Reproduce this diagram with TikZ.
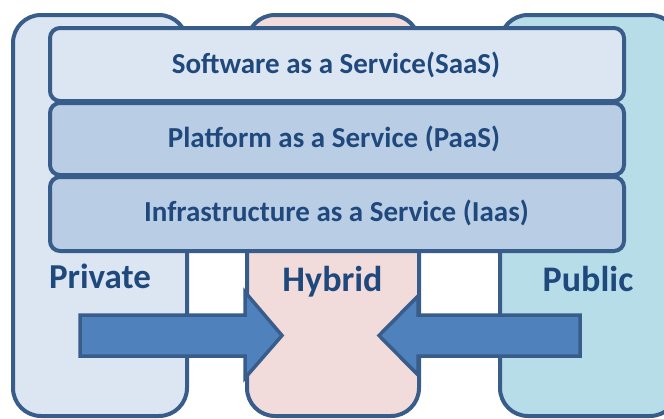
\documentclass[tikz,border=0pt]{standalone}
\usepackage{fontspec}
\setmainfont{Carlito}
\definecolor{bordc}{HTML}{385D8A}
\definecolor{txtc}{HTML}{1F497D}
\definecolor{privc}{HTML}{DCE6F2}
\definecolor{hybc}{HTML}{F2DCDB}
\definecolor{pubc}{HTML}{B7DEE8}
\definecolor{saasc}{HTML}{DCE6F2}
\definecolor{paasc}{HTML}{B9CDE5}
\definecolor{arrc}{HTML}{4F81BD}
\tikzset{
  cloudbox/.style={draw=bordc, line width=4pt, rectangle, rounded corners=28pt, inner sep=0pt},
  layerbox/.style={draw=bordc, line width=4pt, rectangle, rounded corners=10pt, inner sep=0pt,
    minimum width=574pt},
  layerlabel/.style={font=\bfseries\fontsize{29}{32}\selectfont, text=txtc, inner sep=0pt, anchor=base},
  cloudlabel/.style={font=\bfseries\fontsize{36}{40}\selectfont, text=txtc, inner sep=0pt, anchor=base},
  blockarrow/.style={draw=bordc, fill=arrc, line width=3.5pt, line join=miter}
}
\begin{document}
\begin{tikzpicture}[x=1pt,y=-1pt]
\clip (0,0) rectangle (664,418);
\fill[white] (0,0) rectangle (664,418);
% cloud boxes
\node[cloudbox, fill=privc, minimum width=174pt, minimum height=401pt] (private) at (100,215.5) {};
\node[cloudbox, fill=hybc, minimum width=172pt, minimum height=401pt] (hybrid) at (333,215.5) {};
\node[cloudbox, fill=pubc, minimum width=178pt, minimum height=401pt] (public) at (589,215.5) {};
% layers
\node[layerbox, fill=saasc, minimum height=73pt] (saas) at (337,64.5) {};
\node[layerbox, fill=paasc, minimum height=72pt] (paas) at (337,139) {};
\node[layerbox, fill=paasc, minimum height=74pt] (iaas) at (337,214) {};
\node[layerlabel] (saaslbl) at (336,73) {Software as a Service(SaaS)};
\node[layerlabel] (paaslbl) at (334,147) {Platform as a Service (PaaS)};
\node[layerlabel] (iaaslbl) at (336.5,221) {Infrastructure as a Service (Iaas)};
% labels
\node[cloudlabel, font=\bfseries\fontsize{35}{38}\selectfont] (privlbl) at (100,288) {Private};
\node[cloudlabel] (hyblbl) at (332.5,291) {Hybrid};
\node[cloudlabel] (publbl) at (588,291) {Public};
% arrows
\draw[blockarrow] (80,315) -- (245,315) -- (245,292) -- (282,335.5) -- (245,378) -- (245,356) -- (80,356) -- cycle;
\draw[blockarrow] (580,315) -- (418,315) -- (418,296) -- (379,335.5) -- (418,375) -- (418,356) -- (580,356) -- cycle;
\end{tikzpicture}
\end{document}
